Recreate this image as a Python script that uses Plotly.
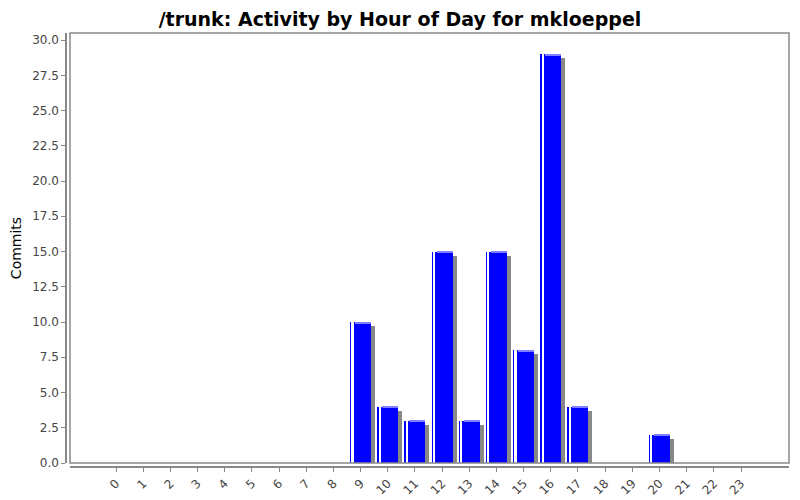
import plotly.graph_objects as go

hours = list(range(24))
hour_labels = [str(h) for h in hours]
commits = [0, 0, 0, 0, 0, 0, 0, 0, 0, 10, 4, 3, 15, 3, 15, 8, 29, 4, 0, 0, 2, 0, 0, 0]

OFF = 8  # page body margin
W, H = 800 - OFF, 500 - OFF
ml, mr, mt, mb = 54, 2, 22, 24
pw, ph = W - ml - mr, H - mt - mb
px0, px1 = 70 - OFF, 789 - OFF      # plot area x pixels
py0, py1 = 33 - OFF, 463 - OFF      # plot area y pixels (top, bottom)

def fx(p):
    return (p - ml) / pw

def fy(p):
    return (H - mb - p) / ph

xdom = [fx(px0), fx(px1)]
ydom = [fy(py1), fy(py0)]

px_per_unit = (741 - 116) / 23.0
xr = [-(116 - 70) / px_per_unit, 23 + (789 - 741) / px_per_unit]
yr = [0, 30.5]
ypx_per_unit = (py1 - py0) / (yr[1] - yr[0])

bw = 0.77
sx = 4 / px_per_unit
sy = 4 / ypx_per_unit

xs = [h for h, v in zip(hours, commits) if v > 0]
vs = [v for v in commits if v > 0]

fig = go.Figure()
# shadow
fig.add_trace(go.Bar(x=[x + sx for x in xs], y=[max(v - sy, 0) for v in vs], width=bw,
                     marker=dict(color="#888888", line=dict(width=0)), hoverinfo="skip"))
# main bars
fig.add_trace(go.Bar(x=xs, y=vs, width=bw,
                     marker=dict(color="#0000ff", line=dict(width=0))))
# white stripe highlight
fig.add_trace(go.Bar(x=[x - bw / 2 + 2.6 / px_per_unit for x in xs], y=vs, width=1.6 / px_per_unit,
                     marker=dict(color="#ffffff", line=dict(width=0)), hoverinfo="skip"))
# light top edge
fig.add_trace(go.Bar(x=[x + 0.09 for x in xs], y=[1.2 / ypx_per_unit] * len(xs),
                     base=[v - 1.2 / ypx_per_unit for v in vs], width=bw - 0.18,
                     marker=dict(color="#8080ff", line=dict(width=0)), hoverinfo="skip"))

fig.update_layout(
    width=W, height=H,
    margin=dict(l=ml, r=mr, t=mt, b=mb, autoexpand=False),
    paper_bgcolor="white", plot_bgcolor="white",
    barmode="overlay", bargap=0, showlegend=False,
    title=dict(text="<b>/trunk: Activity by Hour of Day for mkloeppel</b>",
               x=(400 - OFF) / W, xanchor="center", xref="container", yref="container",
               y=1 - 5 / H, yanchor="top",
               font=dict(family="DejaVu Sans", size=19, color="#000000")),
    font=dict(family="DejaVu Sans", size=12, color="#444444"),
    xaxis=dict(domain=xdom, range=xr, anchor="free", position=fy(467 - OFF), automargin=False,
               tickmode="array", tickvals=hours, ticktext=hour_labels,
               tickangle=-45, ticks="outside", ticklen=4, tickcolor="#888888",
               showline=True, linecolor="#888888", linewidth=1.5,
               showgrid=False, zeroline=False,
               tickfont=dict(family="DejaVu Sans", size=12, color="#444444")),
    yaxis=dict(domain=ydom, range=yr, anchor="free", position=fx(66 - OFF), automargin=False,
               tickmode="array", tickvals=[i * 2.5 for i in range(13)],
               ticktext=["%.1f" % (i * 2.5) for i in range(13)],
               ticks="outside", ticklen=4, tickcolor="#888888",
               showline=True, linecolor="#888888", linewidth=1.5,
               showgrid=False, zeroline=False,
               title=dict(text="Commits", font=dict(family="DejaVu Sans", size=14, color="#000000"), standoff=6),
               tickfont=dict(family="DejaVu Sans", size=12, color="#444444")),
    shapes=[dict(type="rect", xref="paper", yref="paper",
                 x0=xdom[0], x1=xdom[1], y0=ydom[0], y1=ydom[1],
                 line=dict(color="#888888", width=1.5), fillcolor="rgba(0,0,0,0)", layer="above")],
)

fig.write_html("out.html")
